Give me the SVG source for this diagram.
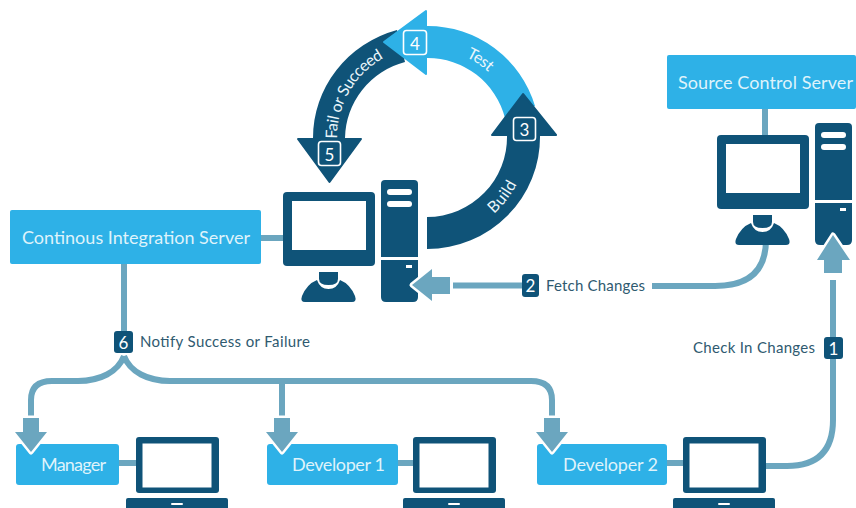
<svg xmlns="http://www.w3.org/2000/svg" xmlns:xlink="http://www.w3.org/1999/xlink" width="856" height="508" viewBox="0 0 856 508">
<style>
text{font-family:"Lato","Open Sans","Liberation Sans",sans-serif}
.d{fill:#0f5378}.l{fill:#2eb1e7}.w{fill:#fff}
.box text,.bt{fill:#dff3fb;font-size:18px;text-anchor:middle;dominant-baseline:central}
.cap{fill:#2f5a70;font-size:15px;dominant-baseline:central}
.wire{fill:none;stroke:#6ba6bf;stroke-width:6}
.arrow{fill:#6ba6bf;stroke:#fff;stroke-width:5;paint-order:stroke;stroke-linejoin:round}
.num{fill:#fff;font-size:17px;text-anchor:middle;dominant-baseline:central}
.ring{fill:none;stroke:#fff;stroke-width:1.6}
.arc{fill:#eaf6fb;font-size:16px;text-anchor:middle;dominant-baseline:central}
.head{stroke-width:2;stroke-linejoin:round}
</style>
<defs>
<g id="pc">
<rect class="d" width="92" height="74" rx="4"/>
<rect class="w" x="9" y="9" width="74" height="49"/>
<path class="d" d="M36 80H55V87Q55 93 45.500 93Q36 93 36 87Z"/>
<path class="d" d="M22 110Q17 110 19 104Q24 92 34 88Q37 97 45.500 97Q54 97 57 88Q67 92 72 104Q74 110 69 110Z"/>
<path class="d" d="M98 65V-8Q98 -12 102 -12H131Q135 -12 135 -8V65Z"/>
<path class="d" d="M98 68H135V105Q135 110 130 110H103Q98 110 98 105Z"/>
<rect class="w" x="104" y="-3" width="25" height="6" rx="3"/>
<rect class="w" x="104" y="9" width="25" height="6" rx="3"/>
<rect class="w" x="123" y="73" width="6" height="3"/>
</g>
<g id="laptop">
<rect class="d" width="83" height="56" rx="3"/>
<rect class="w" x="6.500" y="6.500" width="69" height="44"/>
<path class="d" d="M-10 63Q-10 61 -8 61H90Q92 61 92 63V71H-10Z"/>
<rect class="w" x="35" y="66" width="12" height="2" rx="1"/>
</g>
<path id="down" class="arrow" d="M-8 -34H8V-20H16L0 0L-16 -20H-8Z"/>
<path id="pa" d="M331.500 154.500A98 98 0 0 1 394.500 45.400"/>
<path id="pb" d="M428 41.500A96 96 0 0 1 517 101.500"/>
<path id="pc2" d="M462 226A96 96 0 0 0 520 150"/>
</defs>

<g id="connectors">
<path class="wire" d="M124 264V331"/>
<path class="wire" d="M124 356C118 372 100 381 78 381H52Q31 381 31 400V416"/>
<path class="wire" d="M124 356C130 372 148 381 170 381H531Q552 381 552 400V416"/>
<path class="wire" d="M282 381V416"/>
<path class="wire" d="M261 238H283"/>
<path class="wire" d="M453 285.500H522"/>
<path class="wire" d="M652 286H715Q766 286 766 240"/>
<path class="wire" d="M765 109V135"/>
<path class="wire" d="M833 359V420Q833 466 787 466H766"/>
<path class="wire" d="M833 280V337"/>
<path class="wire" d="M119 463H136"/>
<path class="wire" d="M398 463H413"/>
<path class="wire" d="M667 463H683"/>
</g>

<g id="cycle">
<path class="l" d="M427 26A112 112 0 0 1 535 106L505 118A80 80 0 0 0 427 58Z"/>
<path class="d" d="M313 138A115 112 0 0 1 397 30L405 62A80 80 0 0 0 345 138Z"/>
<path class="l head" stroke="#2eb1e7" d="M384 42L426 11V74Z"/>
<path class="d" d="M427 249A113 112 0 0 0 540 135H507A80 80 0 0 1 427 217Z"/>
<path class="d head" stroke="#0f5378" d="M523 94L556 135H492Z"/>
<path class="d head" stroke="#0f5378" d="M298 139H361L329.500 182Z"/>
<text class="arc"><textPath xlink:href="#pa" href="#pa" startOffset="50%">Fail or Succeed</textPath></text>
<text class="arc"><textPath xlink:href="#pb" href="#pb" startOffset="50%">Test</textPath></text>
<text class="arc"><textPath xlink:href="#pc2" href="#pc2" startOffset="50%">Build</textPath></text>
<rect class="ring" x="403.500" y="30.500" width="23" height="24" rx="3"/><text class="num" x="415" y="43">4</text>
<rect class="ring" x="513.500" y="117.500" width="22" height="23" rx="3"/><text class="num" x="524.500" y="129.500">3</text>
<rect class="ring" x="318.500" y="141.500" width="22" height="24" rx="3"/><text class="num" x="329.500" y="154">5</text>
</g>

<g id="ci-server" class="box">
<rect class="l" x="10" y="210" width="251" height="54" rx="2"/>
<text x="136" y="237" textLength="228">Continous Integration Server</text>
</g>
<g id="ci-computer"><use href="#pc" xlink:href="#pc" x="283" y="192"/></g>
<path class="arrow" d="M450 277V294H432V301L412 285L432 269V277Z"/>

<g id="source-server" class="box">
<rect class="l" x="667" y="55" width="189" height="54" rx="2"/>
<text x="765.500" y="82" textLength="175">Source Control Server</text>
</g>
<g id="source-computer"><use href="#pc" xlink:href="#pc" x="717" y="135"/></g>
<path class="arrow" d="M824 273V260H817L833 235L850 260H842V273Z"/>

<g id="label-1"><text class="cap" x="693" y="347" textLength="122">Check In Changes</text><rect class="d" x="824" y="337" width="19" height="22" rx="3"/><text class="num" x="833.500" y="348">1</text></g>
<g id="label-2"><rect class="d" x="522" y="274" width="17" height="23" rx="3"/><text class="num" x="530.500" y="285.500">2</text><text class="cap" x="546" y="285" textLength="99">Fetch Changes</text></g>
<g id="label-6"><rect class="d" x="114" y="331" width="19" height="22" rx="3"/><text class="num" x="123.500" y="342">6</text><text class="cap" x="140" y="341" textLength="170">Notify Success or Failure</text></g>

<g id="manager" class="box"><rect class="l" x="16" y="444" width="103" height="41" rx="3"/><text x="73.500" y="464" textLength="65">Manager</text><use href="#laptop" xlink:href="#laptop" x="136" y="437"/></g>
<g id="developer-1" class="box"><rect class="l" x="267" y="444" width="131" height="41" rx="3"/><text x="338.500" y="464" textLength="93">Developer 1</text><use href="#laptop" xlink:href="#laptop" x="413" y="437"/></g>
<g id="developer-2" class="box"><rect class="l" x="537" y="444" width="130" height="41" rx="3"/><text x="610.500" y="464" textLength="95">Developer 2</text><use href="#laptop" xlink:href="#laptop" x="683" y="437"/></g>
<use href="#down" xlink:href="#down" x="31" y="452"/>
<use href="#down" xlink:href="#down" x="282" y="452"/>
<use href="#down" xlink:href="#down" x="552" y="452"/>
</svg>
